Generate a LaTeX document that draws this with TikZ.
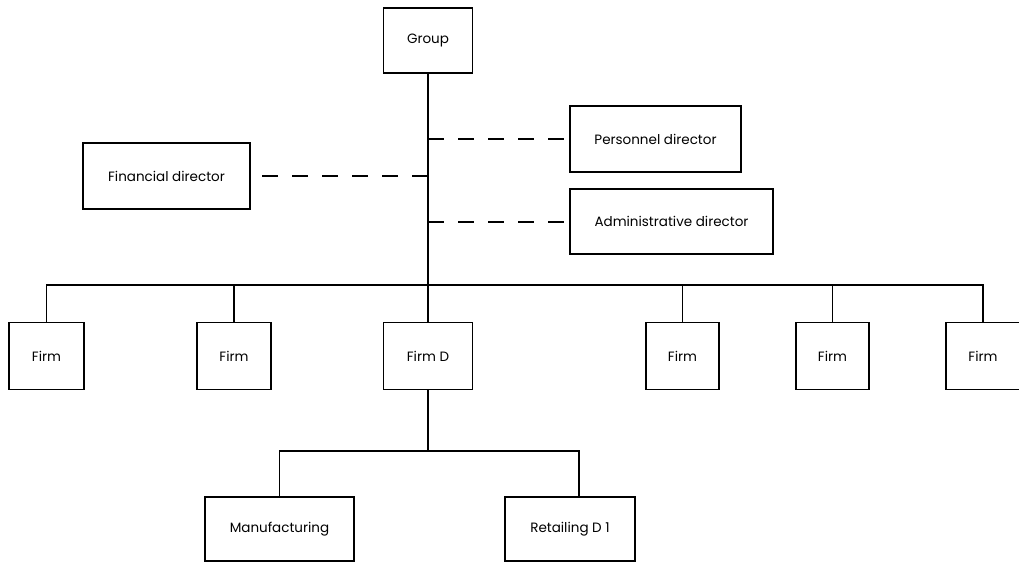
\documentclass[tikz,border=0pt]{standalone}
\usepackage{fontspec}
\setmainfont{Poppins}
\begin{document}
\begin{tikzpicture}[x=1pt,y=-1pt,
  box/.style={draw,line width=1.2pt,rectangle,inner sep=0pt,align=center,font=\fontsize{13.5}{16}\selectfont},
  conn/.style={line width=1.2pt},
  dconn/.style={line width=1.2pt,dash pattern=on 16pt off 14pt}]
\useasboundingbox (0,0) rectangle (1019,563);
\begin{scope}
\clip (0,0) rectangle (1019,563);
\node[box,minimum width=89pt,minimum height=65pt] (group) at (428,40.5) {Group};
\node[box,minimum width=167pt,minimum height=66pt] (fin) at (166.5,176) {Financial director};
\node[box,minimum width=171pt,minimum height=66pt] (pers) at (655.5,139) {Personnel director};
\node[box,minimum width=203pt,minimum height=65pt] (admin) at (671.5,221.5) {Administrative director};
\node[box,minimum width=75pt,minimum height=67pt] (f1) at (46.5,356) {Firm};
\node[box,minimum width=74pt,minimum height=67pt] (f2) at (234,356) {Firm};
\node[box,minimum width=89pt,minimum height=67pt] (fd) at (428,356) {Firm D};
\node[box,minimum width=73pt,minimum height=67pt] (f4) at (682.5,356) {Firm};
\node[box,minimum width=73pt,minimum height=67pt] (f5) at (832.5,356) {Firm};
\node[box,minimum width=74pt,minimum height=67pt] (f6) at (983,356) {Firm};
\node[box,minimum width=149pt,minimum height=64pt] (man) at (279.5,529) {Manufacturing};
\node[box,minimum width=130pt,minimum height=64pt] (ret) at (570,529) {Retailing D 1};
\coordinate (bus) at (428,285);
\coordinate (sub) at (428,451);
\coordinate (tp) at (428,139);
\coordinate (tf) at (428,176);
\coordinate (ta) at (428,222);
\coordinate (rdrop) at (579,451);
% trunk
\draw[conn] (group.south) -- (fd.north);
\draw[conn] (f1.north) |- (f6.north |- bus) -- (f6.north);
\draw[conn] (f2.north) -- (f2.north |- bus);
\draw[conn] (f4.north) -- (f4.north |- bus);
\draw[conn] (f5.north) -- (f5.north |- bus);
\draw[conn] (fd.south) -- (sub);
\draw[conn] (man.north) |- (rdrop) -- (rdrop |- ret.north);
% dashed staff links
\draw[dconn] (tp) -- (pers.west);
\draw[dconn] (tf) -- (fin.east);
\draw[dconn] (ta) -- (admin.west |- ta);
\end{scope}
\end{tikzpicture}
\end{document}
